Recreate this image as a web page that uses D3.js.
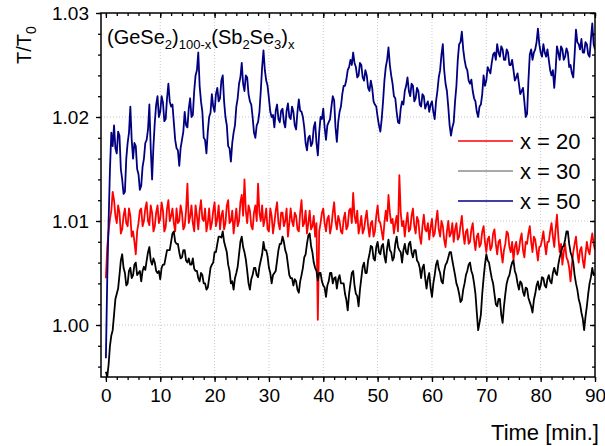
<!DOCTYPE html>
<html><head><meta charset="utf-8">
<script src="https://cdn.jsdelivr.net/npm/d3@7"></script>
<style>body{margin:0;background:#fff;} svg{display:block;font-family:"Liberation Sans",Arial,sans-serif;}</style>
</head><body><svg id="c" width="605" height="446"></svg>
<script>
const tStep = 0.25;
const blue = [0.9968,1.0045,1.0100,1.0150,1.0185,1.0172,1.0192,1.0170,1.0165,1.0186,1.0182,1.0150,1.0140,1.0126,1.0128,1.0160,1.0175,1.0185,1.0210,1.0178,
1.0160,1.0175,1.0172,1.0150,1.0145,1.0130,1.0134,1.0152,1.0160,1.0175,1.0178,1.0188,1.0212,1.0170,1.0140,1.0172,1.0195,1.0212,1.0220,1.0200,
1.0205,1.0220,1.0214,1.0196,1.0198,1.0218,1.0232,1.0215,1.0210,1.0212,1.0195,1.0178,1.0170,1.0168,1.0153,1.0170,1.0178,1.0186,1.0205,1.0192,
1.0190,1.0208,1.0218,1.0200,1.0202,1.0225,1.0240,1.0245,1.0262,1.0230,1.0215,1.0205,1.0180,1.0178,1.0165,1.0186,1.0200,1.0204,1.0222,1.0210,
1.0205,1.0222,1.0228,1.0215,1.0218,1.0235,1.0240,1.0215,1.0200,1.0192,1.0172,1.0170,1.0157,1.0175,1.0185,1.0192,1.0210,1.0218,1.0232,1.0238,
1.0252,1.0232,1.0225,1.0240,1.0238,1.0222,1.0215,1.0212,1.0200,1.0185,1.0180,1.0192,1.0195,1.0205,1.0225,1.0248,1.0264,1.0245,1.0235,1.0230,
1.0218,1.0205,1.0200,1.0202,1.0190,1.0206,1.0212,1.0198,1.0195,1.0206,1.0208,1.0195,1.0190,1.0206,1.0213,1.0200,1.0198,1.0210,1.0205,1.0192,
1.0188,1.0205,1.0217,1.0206,1.0205,1.0200,1.0190,1.0175,1.0168,1.0180,1.0182,1.0172,1.0175,1.0190,1.0195,1.0175,1.0163,1.0185,1.0200,1.0198,
1.0208,1.0190,1.0178,1.0192,1.0195,1.0198,1.0210,1.0220,1.0216,1.0190,1.0176,1.0195,1.0205,1.0210,1.0222,1.0230,1.0230,1.0236,1.0245,1.0248,
1.0255,1.0250,1.0262,1.0252,1.0248,1.0238,1.0240,1.0252,1.0250,1.0238,1.0235,1.0245,1.0240,1.0228,1.0225,1.0235,1.0228,1.0215,1.0212,1.0210,
1.0200,1.0192,1.0186,1.0198,1.0215,1.0235,1.0248,1.0255,1.0267,1.0250,1.0240,1.0232,1.0220,1.0218,1.0205,1.0195,1.0194,1.0208,1.0215,1.0212,
1.0225,1.0230,1.0238,1.0225,1.0220,1.0232,1.0230,1.0215,1.0218,1.0228,1.0225,1.0212,1.0210,1.0222,1.0220,1.0208,1.0212,1.0215,1.0205,1.0212,
1.0215,1.0205,1.0198,1.0215,1.0225,1.0238,1.0245,1.0260,1.0270,1.0245,1.0232,1.0225,1.0210,1.0192,1.0182,1.0190,1.0195,1.0215,1.0230,1.0255,
1.0270,1.0272,1.0282,1.0265,1.0255,1.0248,1.0245,1.0235,1.0232,1.0236,1.0225,1.0218,1.0215,1.0205,1.0200,1.0210,1.0212,1.0222,1.0240,1.0230,
1.0235,1.0248,1.0245,1.0242,1.0252,1.0260,1.0262,1.0255,1.0270,1.0262,1.0258,1.0268,1.0265,1.0255,1.0255,1.0265,1.0262,1.0250,1.0250,1.0255,
1.0245,1.0235,1.0238,1.0242,1.0232,1.0222,1.0225,1.0228,1.0215,1.0200,1.0203,1.0235,1.0260,1.0265,1.0255,1.0262,1.0265,1.0272,1.0285,1.0270,
1.0262,1.0258,1.0270,1.0262,1.0258,1.0265,1.0255,1.0245,1.0240,1.0245,1.0228,1.0245,1.0268,1.0262,1.0255,1.0268,1.0265,1.0255,1.0258,1.0266,
1.0262,1.0248,1.0250,1.0242,1.0238,1.0260,1.0284,1.0272,1.0270,1.0265,1.0275,1.0262,1.0262,1.0272,1.0270,1.0260,1.0258,1.0275,1.0290,1.0270,1.0265];
const red = [1.0045,1.0075,1.0090,1.0102,1.0110,1.0128,1.0120,1.0105,1.0098,1.0115,1.0108,1.0088,1.0092,1.0105,1.0112,1.0098,1.0095,1.0112,1.0105,1.0085,
1.0090,1.0080,1.0068,1.0090,1.0098,1.0110,1.0112,1.0095,1.0100,1.0112,1.0118,1.0100,1.0096,1.0115,1.0108,1.0090,1.0095,1.0108,1.0115,1.0098,
1.0102,1.0118,1.0110,1.0090,1.0094,1.0112,1.0120,1.0100,1.0105,1.0112,1.0098,1.0090,1.0112,1.0098,1.0100,1.0115,1.0108,1.0092,1.0095,1.0110,
1.0136,1.0098,1.0104,1.0115,1.0098,1.0090,1.0115,1.0105,1.0092,1.0110,1.0120,1.0102,1.0100,1.0112,1.0090,1.0098,1.0112,1.0092,1.0098,1.0110,
1.0118,1.0095,1.0102,1.0115,1.0092,1.0105,1.0110,1.0092,1.0098,1.0115,1.0120,1.0098,1.0100,1.0110,1.0088,1.0100,1.0112,1.0095,1.0100,1.0118,
1.0125,1.0105,1.0140,1.0110,1.0098,1.0115,1.0110,1.0095,1.0092,1.0108,1.0115,1.0100,1.0136,1.0108,1.0100,1.0115,1.0095,1.0102,1.0112,1.0092,
1.0090,1.0112,1.0105,1.0088,1.0098,1.0110,1.0118,1.0098,1.0092,1.0108,1.0108,1.0095,1.0100,1.0112,1.0085,1.0098,1.0112,1.0100,1.0095,1.0108,
1.0105,1.0092,1.0090,1.0108,1.0120,1.0095,1.0098,1.0110,1.0088,1.0098,1.0110,1.0092,1.0095,1.0105,1.0085,1.0098,1.0005,1.0090,1.0098,1.0108,
1.0112,1.0098,1.0090,1.0102,1.0105,1.0088,1.0095,1.0108,1.0118,1.0100,1.0092,1.0105,1.0100,1.0090,1.0088,1.0102,1.0108,1.0092,1.0095,1.0110,
1.0112,1.0098,1.0127,1.0105,1.0098,1.0110,1.0088,1.0095,1.0105,1.0088,1.0092,1.0102,1.0110,1.0095,1.0085,1.0098,1.0100,1.0085,1.0090,1.0105,
1.0115,1.0100,1.0098,1.0090,1.0082,1.0098,1.0110,1.0100,1.0125,1.0108,1.0098,1.0102,1.0088,1.0098,1.0105,1.0090,1.0144,1.0108,1.0095,1.0100,
1.0085,1.0098,1.0108,1.0090,1.0092,1.0105,1.0112,1.0095,1.0088,1.0104,1.0100,1.0085,1.0078,1.0095,1.0106,1.0092,1.0090,1.0098,1.0082,1.0094,
1.0102,1.0085,1.0088,1.0100,1.0110,1.0092,1.0085,1.0100,1.0095,1.0082,1.0075,1.0090,1.0100,1.0085,1.0088,1.0098,1.0080,1.0092,1.0098,1.0082,
1.0085,1.0096,1.0105,1.0088,1.0078,1.0090,1.0092,1.0078,1.0080,1.0092,1.0098,1.0082,1.0072,1.0085,1.0088,1.0075,1.0078,1.0090,1.0095,1.0080,
1.0070,1.0082,1.0085,1.0072,1.0075,1.0088,1.0092,1.0078,1.0068,1.0080,1.0082,1.0070,1.0060,1.0072,1.0078,1.0090,1.0088,1.0075,1.0070,1.0080,
1.0062,1.0075,1.0080,1.0068,1.0072,1.0082,1.0088,1.0072,1.0065,1.0080,1.0078,1.0088,1.0095,1.0080,1.0070,1.0085,1.0082,1.0072,1.0062,1.0075,
1.0076,1.0082,1.0090,1.0078,1.0068,1.0080,1.0080,1.0090,1.0098,1.0085,1.0075,1.0092,1.0106,1.0085,1.0070,1.0078,1.0058,1.0070,1.0078,1.0065,
1.0062,1.0055,1.0042,1.0058,1.0070,1.0078,1.0085,1.0070,1.0060,1.0072,1.0075,1.0062,1.0055,1.0068,1.0080,1.0072,1.0068,1.0080,1.0088,1.0078,1.0072];
const black = [0.9955,0.9950,0.9962,0.9980,0.9990,0.9995,1.0010,1.0025,1.0030,1.0035,1.0048,1.0062,1.0068,1.0055,1.0050,1.0038,1.0040,1.0052,1.0055,1.0045,
1.0048,1.0058,1.0060,1.0048,1.0050,1.0052,1.0042,1.0052,1.0056,1.0053,1.0062,1.0070,1.0075,1.0062,1.0058,1.0064,1.0060,1.0052,1.0050,1.0052,
1.0044,1.0055,1.0058,1.0058,1.0065,1.0072,1.0072,1.0072,1.0080,1.0088,1.0090,1.0080,1.0078,1.0078,1.0070,1.0064,1.0065,1.0072,1.0072,1.0062,
1.0060,1.0064,1.0058,1.0058,1.0064,1.0054,1.0052,1.0052,1.0045,1.0042,1.0050,1.0048,1.0040,1.0040,1.0034,1.0036,1.0045,1.0055,1.0058,1.0060,
1.0070,1.0070,1.0078,1.0085,1.0085,1.0084,1.0090,1.0080,1.0075,1.0070,1.0058,1.0052,1.0040,1.0042,1.0034,1.0045,1.0050,1.0056,1.0068,1.0080,
1.0085,1.0075,1.0070,1.0063,1.0052,1.0040,1.0034,1.0044,1.0048,1.0055,1.0055,1.0048,1.0046,1.0056,1.0062,1.0068,1.0080,1.0072,1.0072,1.0066,
1.0055,1.0050,1.0040,1.0048,1.0050,1.0052,1.0062,1.0072,1.0078,1.0078,1.0085,1.0080,1.0072,1.0068,1.0058,1.0048,1.0045,1.0045,1.0038,1.0044,
1.0042,1.0034,1.0031,1.0042,1.0048,1.0055,1.0065,1.0068,1.0078,1.0086,1.0088,1.0076,1.0070,1.0060,1.0055,1.0052,1.0043,1.0050,1.0050,1.0042,
1.0038,1.0036,1.0027,1.0038,1.0042,1.0050,1.0050,1.0040,1.0045,1.0046,1.0035,1.0044,1.0048,1.0040,1.0040,1.0040,1.0030,1.0024,1.0014,1.0030,
1.0040,1.0050,1.0052,1.0038,1.0030,1.0028,1.0018,1.0034,1.0045,1.0056,1.0060,1.0050,1.0050,1.0062,1.0068,1.0076,1.0075,1.0064,1.0062,1.0075,
1.0080,1.0070,1.0068,1.0076,1.0078,1.0066,1.0060,1.0074,1.0082,1.0072,1.0070,1.0062,1.0065,1.0078,1.0085,1.0075,1.0072,1.0070,1.0060,1.0072,
1.0078,1.0070,1.0068,1.0078,1.0080,1.0070,1.0065,1.0072,1.0072,1.0062,1.0060,1.0055,1.0045,1.0055,1.0058,1.0045,1.0035,1.0045,1.0050,1.0036,
1.0027,1.0040,1.0048,1.0058,1.0062,1.0054,1.0050,1.0042,1.0040,1.0052,1.0058,1.0060,1.0065,1.0070,1.0070,1.0062,1.0055,1.0048,1.0040,1.0036,
1.0030,1.0022,1.0024,1.0034,1.0040,1.0048,1.0052,1.0058,1.0060,1.0052,1.0048,1.0040,1.0030,1.0012,0.9995,1.0002,1.0010,1.0030,1.0045,1.0058,
1.0068,1.0062,1.0060,1.0052,1.0045,1.0040,1.0030,1.0020,1.0018,1.0025,1.0025,1.0010,1.0002,1.0018,1.0030,1.0040,1.0045,1.0048,1.0055,1.0060,
1.0062,1.0052,1.0048,1.0040,1.0034,1.0042,1.0040,1.0032,1.0028,1.0036,1.0035,1.0026,1.0022,1.0018,1.0012,1.0024,1.0030,1.0038,1.0042,1.0034,
1.0038,1.0046,1.0045,1.0038,1.0036,1.0044,1.0048,1.0042,1.0040,1.0050,1.0055,1.0050,1.0048,1.0058,1.0065,1.0070,1.0075,1.0076,1.0082,1.0090,
1.0090,1.0078,1.0070,1.0066,1.0060,1.0048,1.0040,1.0034,1.0025,1.0020,1.0012,1.0006,0.9995,1.0008,1.0018,1.0030,1.0040,1.0046,1.0055,1.0048,1.0050];
const seriesNames = ["x = 20","x = 30","x = 50"];
const seriesColors = ["#ff0000","#000000","#000080"];
const xTicks = [0,10,20,30,40,50,60,70,80,90];
const yTicks = [1.00,1.01,1.02,1.03];

const svg = d3.select("#c");
const L=101, R=595, T=13, B=377;
const x = d3.scaleLinear().domain([-0.9,90]).range([L,R]);
const y = d3.scaleLinear().domain([0.995,1.03]).range([B,T]);
const g = svg.append("g");

// grid
g.selectAll(".gx").data(xTicks.filter(d=>d>0&&d<90)).enter().append("line")
 .attr("x1",d=>x(d)).attr("x2",d=>x(d)).attr("y1",T).attr("y2",B)
 .attr("stroke","#c8c8c8").attr("stroke-width",1).attr("stroke-dasharray","1,2");
g.selectAll(".gy").data(yTicks.filter(d=>d<1.03)).enter().append("line")
 .attr("x1",L).attr("x2",R).attr("y1",d=>y(d)).attr("y2",d=>y(d))
 .attr("stroke","#c8c8c8").attr("stroke-width",1).attr("stroke-dasharray","1,2");

svg.append("clipPath").attr("id","cp").append("rect").attr("x",L).attr("y",T).attr("width",R-L).attr("height",B-T);
const line = d3.line().x((d,i)=>x(i*tStep)).y(d=>y(d));
const plots = g.append("g").attr("clip-path","url(#cp)");
[[red,0],[black,1],[blue,2]].forEach(([s,k])=>{
  plots.append("path").datum(s).attr("d",line).attr("fill","none")
   .attr("stroke",seriesColors[k]).attr("stroke-width",1.8).attr("stroke-linejoin","round");
});

// frame
g.append("rect").attr("x",L).attr("y",T).attr("width",R-L).attr("height",B-T)
 .attr("fill","none").attr("stroke","#000").attr("stroke-width",1.5);

// axes
const minorX = d3.range(0,91,2);
const minorY = d3.range(0,18).map(i=>+(0.996+i*0.002).toFixed(3));
const xb = d3.axisBottom(x).tickValues(xTicks).tickSize(5).tickFormat(d3.format("d"));
const xbm = d3.axisBottom(x).tickValues(minorX).tickSize(3).tickFormat("");
const yl = d3.axisLeft(y).tickValues(yTicks).tickSize(5).tickFormat(d3.format(".2f"));
const ylm = d3.axisLeft(y).tickValues(minorY).tickSize(3).tickFormat("");
const xt = d3.axisBottom(x).tickValues(xTicks).tickSize(5).tickFormat("");
const xtm = d3.axisBottom(x).tickValues(minorX).tickSize(3).tickFormat("");
const yr = d3.axisLeft(y).tickValues(yTicks).tickSize(5).tickFormat("");
const yrm = d3.axisLeft(y).tickValues(minorY).tickSize(3).tickFormat("");
function style(sel){sel.select(".domain").remove();sel.selectAll("line").attr("stroke","#000").attr("stroke-width",1.3);}
g.append("g").attr("transform",`translate(0,${B})`).call(xb).call(style)
 .selectAll("text").attr("font-size",19).attr("font-family","Liberation Sans, Arial").attr("fill","#000").attr("dy","0.9em");
g.append("g").attr("transform",`translate(0,${B})`).call(xbm).call(style);
g.append("g").attr("transform",`translate(${L},0)`).call(yl).call(style)
 .selectAll("text").attr("font-size",19).attr("font-family","Liberation Sans, Arial").attr("fill","#000").attr("x",-12);
g.append("g").attr("transform",`translate(${L},0)`).call(ylm).call(style);
g.append("g").attr("transform",`translate(0,${T})`).call(xt).call(style);
g.append("g").attr("transform",`translate(0,${T})`).call(xtm).call(style);
g.append("g").attr("transform",`translate(${R},0)`).call(yr).call(style);
g.append("g").attr("transform",`translate(${R},0)`).call(yrm).call(style);

// axis titles
const yt = svg.append("text").attr("transform","translate(31,64) rotate(-90)").attr("font-size",20).attr("fill","#000");
yt.append("tspan").text("T/T");
yt.append("tspan").attr("font-size",14).attr("dy",5).text("0");
svg.append("text").attr("x",599).attr("y",440).attr("text-anchor","end").attr("font-size",22).attr("fill","#000").text("Time [min.]");

// annotation
const an = svg.append("text").attr("x",107).attr("y",44).attr("font-size",20).attr("fill","#000");
[["(GeSe",0],["2",1],[")",0],["100-x",1],["(Sb",0],["2",1],["Se",0],["3",1],[")",0],["x",1]].forEach(([s,sub],i,arr)=>{
  const prevSub = i>0?arr[i-1][1]:0;
  const dy = sub&&!prevSub?5:(!sub&&prevSub?-5:0);
  an.append("tspan").attr("font-size",sub?13:20).attr("dy",dy).text(s);
});

// legend
const legY = [141,171,201];
seriesNames.forEach((n,i)=>{
  svg.append("line").attr("x1",458).attr("x2",513).attr("y1",legY[i]).attr("y2",legY[i])
   .attr("stroke",i===1?"#555":seriesColors[i]).attr("stroke-width",i===1?1:1.6);
  svg.append("text").attr("x",520).attr("y",legY[i]+8).attr("font-size",22).attr("fill","#000").text(n);
});
</script></body></html>
